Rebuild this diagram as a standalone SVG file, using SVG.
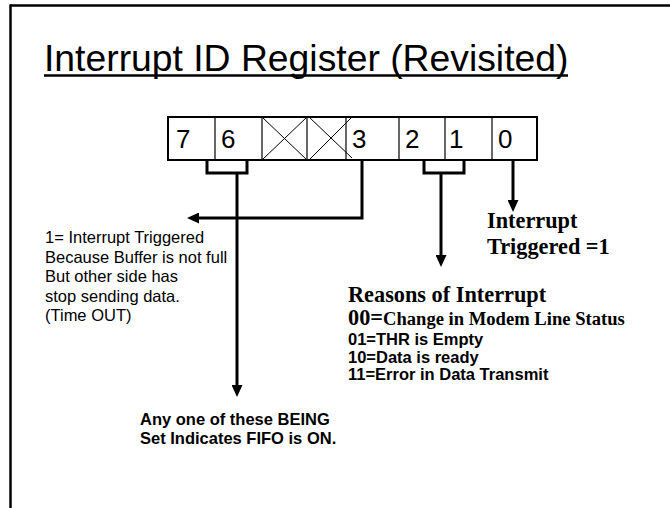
<svg xmlns="http://www.w3.org/2000/svg" width="670" height="508" viewBox="0 0 670 508">
  <style>
    .frame { stroke: #000; stroke-width: 2.5; fill: none; }
    .box { stroke: #000; stroke-width: 2; fill: #fff; }
    .div { stroke: #000; stroke-width: 1.2; fill: none; }
    .xl { stroke: #000; stroke-width: 1; fill: none; }
    .conn { stroke: #000; stroke-width: 3; fill: none; }
    .digit { font-family: "Liberation Sans", Arial, sans-serif; font-size: 26px; fill: #000; }
    .title { font-family: "Liberation Sans", Arial, sans-serif; font-size: 37.3px; fill: #000; }
    .note { font-family: "Liberation Sans", Arial, sans-serif; font-size: 16.5px; fill: #000; }
    .noteb { font-family: "Liberation Sans", Arial, sans-serif; font-size: 16.5px; font-weight: bold; fill: #000; }
    .tb { font-family: "Liberation Serif", "Times New Roman", serif; font-weight: bold; fill: #000; }
  </style>
  <defs>
    <marker id="arr" markerUnits="userSpaceOnUse" markerWidth="12" markerHeight="11" viewBox="0 0 12 11" refX="1" refY="5.5" orient="auto">
      <path d="M0,0 L12,5.5 L0,11 Z" fill="#000"/>
    </marker>
  </defs>

  <g id="frame">
    <line class="frame" x1="10" y1="5.5" x2="670" y2="5.5"/>
    <line class="frame" x1="10.5" y1="4.5" x2="10.5" y2="508"/>
  </g>

  <g id="title">
    <text class="title" x="44" y="71">Interrupt ID Register (Revisited)</text>
    <line x1="44" y1="75.5" x2="568" y2="75.5" stroke="#000" stroke-width="2.6"/>
  </g>

  <g id="register">
    <rect class="box" x="168" y="117" width="369" height="43"/>
    <line class="div" x1="215" y1="117" x2="215" y2="160"/>
    <line class="div" x1="262" y1="117" x2="262" y2="160"/>
    <line class="div" x1="307" y1="117" x2="307" y2="160"/>
    <line class="div" x1="346" y1="117" x2="346" y2="160"/>
    <line class="div" x1="399" y1="117" x2="399" y2="160"/>
    <line class="div" x1="445" y1="117" x2="445" y2="160"/>
    <line class="div" x1="492" y1="117" x2="492" y2="160"/>
    <line class="xl" x1="262" y1="117" x2="307" y2="160"/>
    <line class="xl" x1="262" y1="160" x2="307" y2="117"/>
    <line class="xl" x1="309" y1="117" x2="352" y2="158"/>
    <line class="xl" x1="309" y1="160" x2="352" y2="117"/>
    <text class="digit" x="176" y="148">7</text>
    <text class="digit" x="221" y="148">6</text>
    <text class="digit" x="352" y="148">3</text>
    <text class="digit" x="405" y="148">2</text>
    <text class="digit" x="449" y="148">1</text>
    <text class="digit" x="498" y="148">0</text>
  </g>

  <g id="connectors">
    <path class="conn" d="M207,160 V173 H247 V160"/>
    <path class="conn" d="M237,173 V386" marker-end="url(#arr)"/>
    <path class="conn" d="M362,160 V218 H198" marker-end="url(#arr)"/>
    <path class="conn" d="M424,160 V173 H464 V160"/>
    <path class="conn" d="M441,173 V256" marker-end="url(#arr)"/>
    <path class="conn" d="M513,160 V201" marker-end="url(#arr)"/>
  </g>

  <g id="timeout-note">
    <text class="note" x="45" y="243">1= Interrupt Triggered</text>
    <text class="note" x="45" y="262.5">Because Buffer is not full</text>
    <text class="note" x="45" y="282">But other side has</text>
    <text class="note" x="45" y="301.5">stop sending data.</text>
    <text class="note" x="45" y="321">(Time OUT)</text>
  </g>

  <g id="fifo-note">
    <text class="noteb" x="140" y="425">Any one of these BEING</text>
    <text class="noteb" x="140" y="444">Set Indicates FIFO is ON.</text>
  </g>

  <g id="interrupt-note">
    <text class="tb" x="487" y="228" font-size="22.3">Interrupt</text>
    <text class="tb" x="487" y="254" font-size="22.3">Triggered =1</text>
  </g>

  <g id="reasons-note">
    <text class="tb" x="348" y="302" font-size="22.3">Reasons of Interrupt</text>
    <text class="tb" x="348" y="325" font-size="22.3">00=<tspan font-size="18.6">Change in Modem Line Status</tspan></text>
    <text class="noteb" x="348" y="345">01=THR is Empty</text>
    <text class="noteb" x="348" y="362.5">10=Data is ready</text>
    <text class="noteb" x="348" y="380">11=Error in Data Transmit</text>
  </g>
</svg>
